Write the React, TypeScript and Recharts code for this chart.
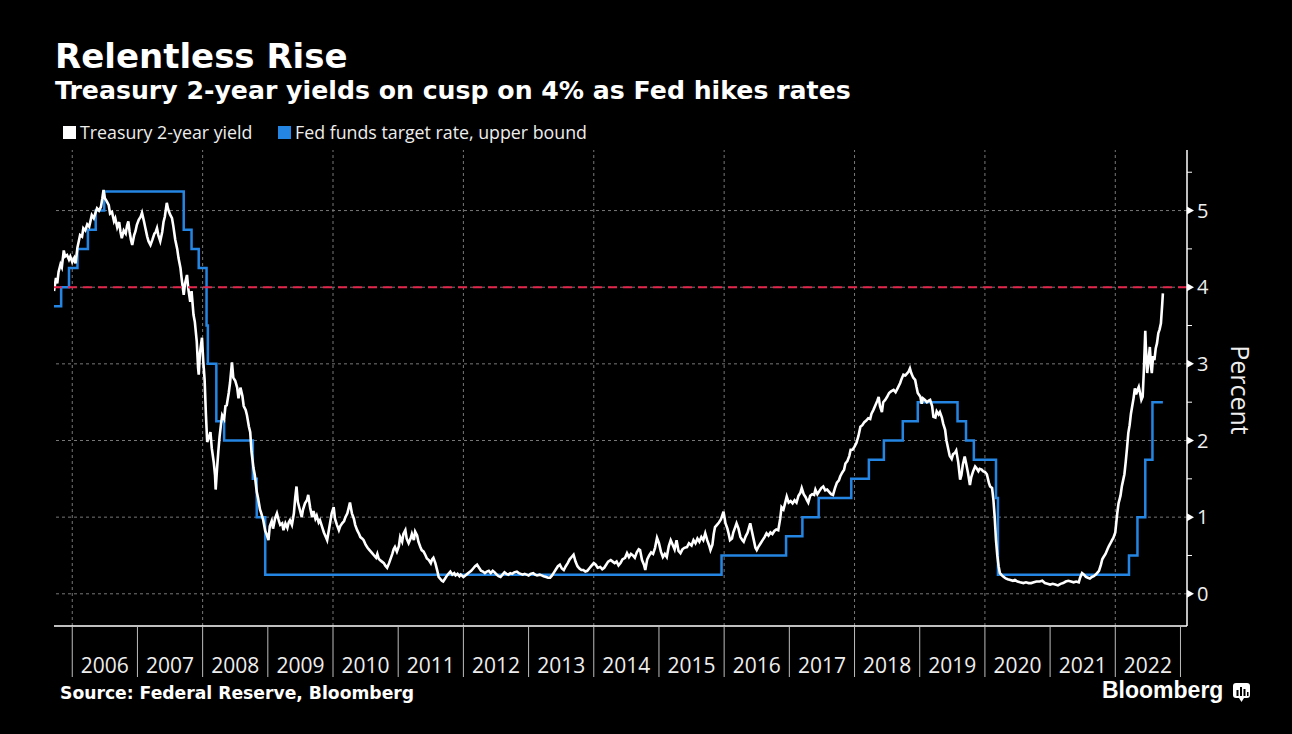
import React from 'react';
import { ComposedChart, Line, XAxis, YAxis, ReferenceLine } from 'recharts';

// Treasury 2-year yield, [decimal year, percent]
const treasury2y: [number, number][] = [
  [2005.72, 3.95], [2005.75, 4.12], [2005.77, 4.05], [2005.79, 4.2], [2005.82, 4.3], [2005.84, 4.26], [2005.87, 4.48], [2005.89, 4.4], [2005.92, 4.42], [2005.95, 4.36], [2005.97, 4.4],
  [2006.0, 4.33], [2006.03, 4.38], [2006.05, 4.31], [2006.08, 4.52], [2006.1, 4.6], [2006.12, 4.68], [2006.15, 4.66], [2006.17, 4.77], [2006.2, 4.74], [2006.23, 4.82], [2006.26, 4.79], [2006.3, 4.94], [2006.33, 4.9], [2006.36, 4.98], [2006.38, 5.03], [2006.41, 5.0], [2006.44, 5.05], [2006.46, 5.15], [2006.48, 5.27], [2006.5, 5.16], [2006.53, 5.12], [2006.56, 5.07], [2006.58, 4.96], [2006.61, 4.98], [2006.64, 4.86], [2006.66, 4.9], [2006.69, 4.78], [2006.72, 4.85], [2006.74, 4.72], [2006.76, 4.64], [2006.79, 4.74], [2006.82, 4.7], [2006.84, 4.8], [2006.86, 4.86], [2006.88, 4.72], [2006.9, 4.62], [2006.92, 4.55], [2006.95, 4.68], [2006.97, 4.73], [2006.99, 4.81],
  [2007.02, 4.88], [2007.05, 4.92], [2007.07, 4.97], [2007.1, 4.86], [2007.12, 4.78], [2007.15, 4.66], [2007.17, 4.6], [2007.2, 4.55], [2007.23, 4.62], [2007.26, 4.7], [2007.28, 4.72], [2007.3, 4.77], [2007.32, 4.68], [2007.35, 4.6], [2007.38, 4.72], [2007.4, 4.85], [2007.42, 4.92], [2007.45, 5.1], [2007.47, 5.02], [2007.5, 4.95], [2007.53, 4.9], [2007.55, 4.8], [2007.58, 4.62], [2007.61, 4.5], [2007.63, 4.38], [2007.66, 4.25], [2007.68, 4.1], [2007.71, 3.9], [2007.73, 4.05], [2007.76, 4.16], [2007.78, 3.98], [2007.81, 3.81], [2007.83, 3.95], [2007.86, 3.64], [2007.88, 3.55], [2007.91, 3.29], [2007.93, 2.95], [2007.94, 2.86], [2007.96, 3.15], [2007.99, 3.34],
  [2008.01, 3.03], [2008.03, 2.8], [2008.05, 2.35], [2008.07, 1.98], [2008.1, 2.05], [2008.12, 2.11], [2008.14, 1.9], [2008.17, 1.72], [2008.19, 1.55], [2008.2, 1.36], [2008.22, 1.62], [2008.24, 1.85], [2008.26, 2.05], [2008.28, 2.2], [2008.3, 2.33], [2008.33, 2.28], [2008.35, 2.45], [2008.37, 2.46], [2008.4, 2.62], [2008.42, 2.75], [2008.45, 3.02], [2008.47, 2.82], [2008.5, 2.78], [2008.53, 2.69], [2008.55, 2.55], [2008.58, 2.69], [2008.61, 2.58], [2008.63, 2.45], [2008.66, 2.4], [2008.68, 2.33], [2008.71, 2.18], [2008.73, 2.11], [2008.75, 1.85], [2008.78, 1.64], [2008.8, 1.55], [2008.83, 1.33], [2008.85, 1.25], [2008.88, 1.1], [2008.9, 1.05], [2008.93, 0.96], [2008.96, 0.82], [2008.98, 0.78],
  [2009.01, 0.7], [2009.03, 0.88], [2009.06, 0.95], [2009.08, 0.85], [2009.11, 0.98], [2009.14, 1.05], [2009.17, 0.95], [2009.19, 0.9], [2009.22, 0.92], [2009.24, 0.83], [2009.27, 0.92], [2009.3, 0.86], [2009.32, 0.93], [2009.34, 0.96], [2009.37, 0.9], [2009.4, 1.05], [2009.42, 1.25], [2009.44, 1.4], [2009.46, 1.2], [2009.49, 1.1], [2009.52, 1.0], [2009.54, 1.1], [2009.57, 1.18], [2009.6, 1.22], [2009.62, 1.29], [2009.65, 1.12], [2009.68, 1.0], [2009.7, 1.08], [2009.73, 0.98], [2009.75, 1.02], [2009.78, 0.93], [2009.8, 0.96], [2009.83, 0.88], [2009.86, 0.8], [2009.88, 0.76], [2009.91, 0.7], [2009.93, 0.8], [2009.96, 0.95], [2009.98, 1.05],
  [2010.01, 1.13], [2010.03, 0.98], [2010.06, 0.9], [2010.09, 0.83], [2010.11, 0.88], [2010.14, 0.92], [2010.17, 0.95], [2010.19, 1.0], [2010.22, 1.05], [2010.24, 1.12], [2010.26, 1.19], [2010.29, 1.05], [2010.32, 0.98], [2010.34, 0.9], [2010.37, 0.83], [2010.4, 0.78], [2010.42, 0.74], [2010.45, 0.72], [2010.47, 0.7], [2010.5, 0.64], [2010.53, 0.6], [2010.55, 0.58], [2010.58, 0.55], [2010.6, 0.53], [2010.63, 0.5], [2010.66, 0.47], [2010.68, 0.52], [2010.7, 0.46], [2010.72, 0.44], [2010.75, 0.42], [2010.78, 0.4], [2010.8, 0.37], [2010.83, 0.34], [2010.86, 0.4], [2010.88, 0.45], [2010.91, 0.52], [2010.93, 0.58], [2010.95, 0.61], [2010.98, 0.55],
  [2011.01, 0.62], [2011.03, 0.74], [2011.06, 0.68], [2011.08, 0.78], [2011.11, 0.83], [2011.13, 0.72], [2011.16, 0.66], [2011.19, 0.72], [2011.21, 0.78], [2011.24, 0.7], [2011.26, 0.81], [2011.29, 0.76], [2011.31, 0.68], [2011.34, 0.61], [2011.36, 0.57], [2011.39, 0.55], [2011.42, 0.5], [2011.44, 0.46], [2011.47, 0.44], [2011.5, 0.4], [2011.52, 0.45], [2011.54, 0.47], [2011.57, 0.4], [2011.6, 0.3], [2011.62, 0.22], [2011.65, 0.19], [2011.67, 0.17], [2011.69, 0.16], [2011.72, 0.2], [2011.75, 0.24], [2011.77, 0.26], [2011.8, 0.29], [2011.83, 0.25], [2011.86, 0.27], [2011.88, 0.24], [2011.91, 0.26], [2011.94, 0.23], [2011.96, 0.25],
  [2012.0, 0.22], [2012.03, 0.24], [2012.06, 0.26], [2012.09, 0.28], [2012.12, 0.3], [2012.15, 0.33], [2012.18, 0.36], [2012.21, 0.38], [2012.24, 0.34], [2012.27, 0.3], [2012.3, 0.29], [2012.33, 0.27], [2012.36, 0.29], [2012.39, 0.3], [2012.42, 0.27], [2012.45, 0.3], [2012.48, 0.28], [2012.51, 0.25], [2012.54, 0.23], [2012.57, 0.22], [2012.6, 0.25], [2012.63, 0.28], [2012.66, 0.26], [2012.69, 0.25], [2012.72, 0.27], [2012.75, 0.26], [2012.78, 0.28], [2012.82, 0.29], [2012.85, 0.27], [2012.88, 0.26], [2012.91, 0.25], [2012.94, 0.26], [2012.97, 0.25],
  [2013.0, 0.24], [2013.03, 0.26], [2013.07, 0.27], [2013.1, 0.25], [2013.13, 0.24], [2013.17, 0.25], [2013.2, 0.24], [2013.23, 0.23], [2013.27, 0.22], [2013.3, 0.21], [2013.33, 0.21], [2013.36, 0.24], [2013.39, 0.28], [2013.42, 0.32], [2013.45, 0.36], [2013.48, 0.38], [2013.51, 0.33], [2013.54, 0.31], [2013.57, 0.36], [2013.6, 0.4], [2013.63, 0.45], [2013.66, 0.48], [2013.69, 0.51], [2013.72, 0.42], [2013.75, 0.36], [2013.78, 0.33], [2013.81, 0.31], [2013.84, 0.31], [2013.87, 0.29], [2013.9, 0.3], [2013.93, 0.33], [2013.96, 0.36],
  [2014.0, 0.4], [2014.03, 0.38], [2014.06, 0.34], [2014.1, 0.35], [2014.13, 0.32], [2014.16, 0.34], [2014.19, 0.38], [2014.22, 0.42], [2014.26, 0.44], [2014.29, 0.42], [2014.32, 0.4], [2014.35, 0.42], [2014.38, 0.37], [2014.41, 0.4], [2014.44, 0.45], [2014.48, 0.47], [2014.51, 0.53], [2014.54, 0.48], [2014.57, 0.52], [2014.6, 0.5], [2014.63, 0.47], [2014.66, 0.54], [2014.69, 0.58], [2014.71, 0.57], [2014.74, 0.44], [2014.77, 0.38], [2014.79, 0.31], [2014.82, 0.45], [2014.85, 0.5], [2014.88, 0.54], [2014.91, 0.52], [2014.94, 0.6], [2014.97, 0.73],
  [2015.0, 0.66], [2015.03, 0.55], [2015.06, 0.48], [2015.09, 0.52], [2015.12, 0.48], [2015.15, 0.62], [2015.18, 0.7], [2015.21, 0.64], [2015.24, 0.58], [2015.27, 0.7], [2015.3, 0.56], [2015.33, 0.53], [2015.36, 0.58], [2015.39, 0.6], [2015.43, 0.61], [2015.46, 0.66], [2015.5, 0.63], [2015.53, 0.7], [2015.56, 0.66], [2015.59, 0.72], [2015.62, 0.68], [2015.65, 0.74], [2015.68, 0.7], [2015.71, 0.79], [2015.74, 0.7], [2015.77, 0.63], [2015.79, 0.57], [2015.82, 0.64], [2015.84, 0.78], [2015.86, 0.87], [2015.89, 0.9], [2015.92, 0.93], [2015.95, 0.97], [2015.97, 1.02], [2015.99, 1.07],
  [2016.02, 0.92], [2016.05, 0.85], [2016.07, 0.78], [2016.09, 0.7], [2016.12, 0.72], [2016.14, 0.8], [2016.17, 0.87], [2016.19, 0.92], [2016.22, 0.85], [2016.25, 0.74], [2016.28, 0.7], [2016.3, 0.68], [2016.33, 0.75], [2016.36, 0.8], [2016.38, 0.86], [2016.4, 0.92], [2016.43, 0.8], [2016.45, 0.72], [2016.48, 0.6], [2016.5, 0.57], [2016.53, 0.62], [2016.56, 0.66], [2016.59, 0.7], [2016.62, 0.74], [2016.65, 0.79], [2016.68, 0.76], [2016.71, 0.8], [2016.74, 0.78], [2016.77, 0.82], [2016.8, 0.84], [2016.83, 0.83], [2016.86, 0.98], [2016.88, 1.13], [2016.91, 1.1], [2016.94, 1.2], [2016.96, 1.27], [2016.99, 1.19],
  [2017.02, 1.21], [2017.05, 1.18], [2017.08, 1.22], [2017.11, 1.19], [2017.14, 1.28], [2017.17, 1.32], [2017.19, 1.38], [2017.22, 1.3], [2017.25, 1.26], [2017.27, 1.22], [2017.29, 1.19], [2017.32, 1.28], [2017.35, 1.3], [2017.38, 1.29], [2017.4, 1.36], [2017.43, 1.3], [2017.46, 1.34], [2017.49, 1.38], [2017.52, 1.4], [2017.55, 1.35], [2017.58, 1.36], [2017.61, 1.33], [2017.64, 1.3], [2017.67, 1.29], [2017.7, 1.38], [2017.73, 1.45], [2017.76, 1.48], [2017.78, 1.53], [2017.81, 1.58], [2017.84, 1.62], [2017.86, 1.7], [2017.89, 1.73], [2017.92, 1.8], [2017.94, 1.88], [2017.97, 1.88],
  [2018.0, 1.92], [2018.03, 1.97], [2018.06, 2.06], [2018.09, 2.18], [2018.12, 2.2], [2018.15, 2.24], [2018.18, 2.26], [2018.21, 2.29], [2018.24, 2.28], [2018.26, 2.35], [2018.29, 2.4], [2018.32, 2.46], [2018.35, 2.52], [2018.37, 2.57], [2018.39, 2.45], [2018.42, 2.37], [2018.44, 2.5], [2018.47, 2.53], [2018.5, 2.57], [2018.53, 2.62], [2018.56, 2.64], [2018.6, 2.66], [2018.63, 2.63], [2018.66, 2.68], [2018.7, 2.75], [2018.72, 2.8], [2018.75, 2.86], [2018.78, 2.85], [2018.81, 2.88], [2018.83, 2.9], [2018.85, 2.94], [2018.87, 2.88], [2018.9, 2.82], [2018.93, 2.79], [2018.95, 2.7], [2018.97, 2.62],
  [2019.01, 2.57], [2019.03, 2.48], [2019.05, 2.55], [2019.08, 2.53], [2019.11, 2.5], [2019.14, 2.52], [2019.16, 2.53], [2019.19, 2.45], [2019.21, 2.31], [2019.24, 2.3], [2019.26, 2.38], [2019.29, 2.34], [2019.31, 2.37], [2019.34, 2.3], [2019.36, 2.22], [2019.39, 2.14], [2019.41, 2.0], [2019.44, 1.88], [2019.46, 1.8], [2019.49, 1.76], [2019.51, 1.82], [2019.54, 1.84], [2019.56, 1.87], [2019.59, 1.72], [2019.62, 1.49], [2019.64, 1.55], [2019.66, 1.68], [2019.69, 1.79], [2019.71, 1.71], [2019.74, 1.58], [2019.77, 1.42], [2019.79, 1.52], [2019.82, 1.6], [2019.85, 1.66], [2019.87, 1.64], [2019.9, 1.6], [2019.92, 1.63], [2019.95, 1.62], [2019.97, 1.6],
  [2020.0, 1.59], [2020.03, 1.56], [2020.06, 1.45], [2020.08, 1.4], [2020.11, 1.38], [2020.13, 1.23], [2020.15, 1.0], [2020.17, 0.7], [2020.19, 0.5], [2020.21, 0.36], [2020.23, 0.27], [2020.26, 0.24], [2020.29, 0.22], [2020.32, 0.2], [2020.35, 0.19], [2020.39, 0.18], [2020.43, 0.17], [2020.46, 0.18], [2020.5, 0.16], [2020.54, 0.15], [2020.59, 0.14], [2020.63, 0.15], [2020.67, 0.14], [2020.71, 0.14], [2020.75, 0.15], [2020.79, 0.16], [2020.84, 0.16], [2020.88, 0.17], [2020.92, 0.14], [2020.96, 0.13],
  [2021.0, 0.12], [2021.04, 0.13], [2021.08, 0.12], [2021.12, 0.11], [2021.16, 0.13], [2021.2, 0.14], [2021.24, 0.16], [2021.28, 0.17], [2021.32, 0.16], [2021.36, 0.15], [2021.4, 0.16], [2021.44, 0.15], [2021.46, 0.21], [2021.49, 0.27], [2021.52, 0.25], [2021.55, 0.22], [2021.58, 0.21], [2021.61, 0.2], [2021.64, 0.22], [2021.67, 0.23], [2021.7, 0.25], [2021.72, 0.27], [2021.75, 0.3], [2021.78, 0.38], [2021.8, 0.45], [2021.82, 0.48], [2021.85, 0.52], [2021.88, 0.58], [2021.9, 0.62], [2021.92, 0.65], [2021.95, 0.7], [2021.97, 0.73],
  [2022.0, 0.8], [2022.03, 1.05], [2022.05, 1.18], [2022.08, 1.28], [2022.1, 1.4], [2022.12, 1.48], [2022.14, 1.56], [2022.16, 1.72], [2022.18, 1.9], [2022.2, 2.1], [2022.22, 2.2], [2022.24, 2.35], [2022.26, 2.45], [2022.28, 2.55], [2022.3, 2.68], [2022.32, 2.6], [2022.34, 2.66], [2022.36, 2.7], [2022.38, 2.62], [2022.4, 2.53], [2022.42, 2.57], [2022.44, 2.95], [2022.46, 3.43], [2022.47, 3.2], [2022.49, 2.88], [2022.51, 3.05], [2022.53, 3.22], [2022.55, 2.95], [2022.56, 2.88], [2022.58, 3.1], [2022.6, 3.05], [2022.62, 3.2], [2022.64, 3.27], [2022.66, 3.4], [2022.68, 3.45], [2022.7, 3.53], [2022.72, 3.78], [2022.73, 3.92],
];

// Fed funds target rate, upper bound: date of change and new level
const fedDates = [2005.72, 2005.83, 2005.95, 2006.08, 2006.24, 2006.36, 2006.49, 2007.71, 2007.83, 2007.94, 2008.06, 2008.08, 2008.21, 2008.33, 2008.77, 2008.83, 2008.96, 2015.96, 2016.95, 2017.2, 2017.45, 2017.95, 2018.22, 2018.45, 2018.74, 2018.97, 2019.58, 2019.71, 2019.83, 2020.17, 2020.2, 2022.21, 2022.34, 2022.46, 2022.57, 2022.73];
const fedRates = [3.75, 4.0, 4.25, 4.5, 4.75, 5.0, 5.25, 4.75, 4.5, 4.25, 3.5, 3.0, 2.25, 2.0, 1.5, 1.0, 0.25, 0.5, 0.75, 1.0, 1.25, 1.5, 1.75, 2.0, 2.25, 2.5, 2.25, 2.0, 1.75, 1.25, 0.25, 0.5, 1.0, 1.75, 2.5, 2.5];

const yearEdges = [2006, 2007, 2008, 2009, 2010, 2011, 2012, 2013, 2014, 2015, 2016, 2017, 2018, 2019, 2020, 2021, 2022, 2023];
const yearLabels = ['2006', '2007', '2008', '2009', '2010', '2011', '2012', '2013', '2014', '2015', '2016', '2017', '2018', '2019', '2020', '2021', '2022'];
const gridYears = [2006, 2008, 2010, 2012, 2014, 2016, 2018, 2020, 2022];
const gridLevels = [0, 1, 2, 3, 4, 5];
const levelTicks = [0, 0.5, 1, 1.5, 2, 2.5, 3, 3.5, 4, 4.5, 5, 5.5];
const threshold = 4;

const treasuryData = treasury2y.map(([t, v]) => ({ t, v }));
const fedData = fedDates.map((t, i) => ({ t, v: fedRates[i] }));
// tick at each year boundary (separator) plus one mid-year (label)
const xTicks = [...yearEdges, ...yearLabels.map((y) => Number(y) + 0.5)].sort((a, b) => a - b);

const FONT = '"Open Sans", "DejaVu Sans", sans-serif';
const BOLD = '"DejaVu Sans", sans-serif';

function YearTick(props: any) {
  const { x, y, payload } = props;
  const v = payload.value;
  if (Number.isInteger(v)) {
    return <line x1={x} x2={x} y1={y} y2={y + 51} stroke="#bdbdbd" strokeWidth={1} />;
  }
  return (
    <text x={x} y={y + 47} textAnchor="middle" fill="#eeeeee" fontSize={21} fontFamily={FONT}>
      {String(Math.floor(v))}
    </text>
  );
}

function LevelTick(props: any) {
  const { x, y, payload } = props;
  const v = payload.value;
  if (Number.isInteger(v)) {
    return (
      <g>
        <path d={`M${x},${y - 4}L${x + 7},${y}L${x},${y + 4}Z`} fill="#ffffff" />
        <text x={x + 10} y={y + 7} fill="#eeeeee" fontSize={20} fontFamily={FONT}>
          {v}
        </text>
      </g>
    );
  }
  return <line x1={x} x2={x + 5} y1={y} y2={y} stroke="#ffffff" strokeWidth={1} />;
}

export default function App() {
  return (
    <div style={{ position: 'absolute', left: 0, top: 0, width: 1292, height: 734, background: '#000', overflow: 'hidden' }}>
      <ComposedChart width={1292} height={734} margin={{ top: 150, right: 25, bottom: 48, left: 54 }}>
        <XAxis
          dataKey="t"
          type="number"
          domain={[2005.72, 2023.1]}
          allowDataOverflow
          ticks={xTicks}
          interval={0}
          tick={<YearTick />}
          tickLine={false}
          tickSize={0}
          tickMargin={0}
          height={60}
          axisLine={{ stroke: '#ffffff', strokeWidth: 1.5 }}
        />
        <YAxis
          orientation="right"
          type="number"
          domain={[-0.42, 5.79]}
          allowDataOverflow
          ticks={levelTicks}
          interval={0}
          tick={<LevelTick />}
          tickLine={false}
          tickSize={0}
          tickMargin={0}
          width={80}
          axisLine={{ stroke: '#ffffff', strokeWidth: 1.5 }}
        />
        {gridLevels.map((g) => (
          <ReferenceLine key={`h${g}`} y={g} stroke="#777" strokeDasharray="3 3" strokeWidth={1} />
        ))}
        {gridYears.map((g) => (
          <ReferenceLine key={`v${g}`} x={g} stroke="#777" strokeDasharray="3 3" strokeWidth={1} />
        ))}
        <Line
          data={fedData}
          dataKey="v"
          type="stepAfter"
          stroke="#2585e2"
          strokeWidth={2.5}
          dot={false}
          isAnimationActive={false}
        />
        <Line
          data={treasuryData}
          dataKey="v"
          type="linear"
          stroke="#ffffff"
          strokeWidth={2.6}
          dot={false}
          isAnimationActive={false}
        />
        <ReferenceLine y={threshold} stroke="#e3264c" strokeDasharray="9 6" strokeWidth={2} />
      </ComposedChart>

      <svg width={1292} height={734} style={{ position: 'absolute', left: 0, top: 0, pointerEvents: 'none' }}>
        <text x={55} y={68} fill="#fff" fontFamily={BOLD} fontWeight="bold" fontSize={34}>
          Relentless Rise
        </text>
        <text x={55} y={99} fill="#fff" fontFamily={BOLD} fontWeight="bold" fontSize={25.2}>
          Treasury 2-year yields on cusp on 4% as Fed hikes rates
        </text>
        <rect x={63} y={126} width={13} height={13} fill="#ffffff" />
        <text x={80} y={139} fill="#eeeeee" fontFamily={FONT} fontSize={17.8}>
          Treasury 2-year yield
        </text>
        <rect x={278} y={126} width={13} height={13} fill="#2585e2" />
        <text x={295} y={139} fill="#eeeeee" fontFamily={FONT} fontSize={17.8}>
          Fed funds target rate, upper bound
        </text>
        <text
          x={1231}
          y={390}
          fill="#eeeeee"
          fontFamily={FONT}
          fontSize={25}
          textAnchor="middle"
          transform="rotate(90 1231 390)"
        >
          Percent
        </text>
        <text x={60} y={699} fill="#fff" fontFamily={BOLD} fontWeight="bold" fontSize={17.2}>
          Source: Federal Reserve, Bloomberg
        </text>
        <text x={1102} y={698} fill="#fff" fontFamily='"Liberation Sans", Arial, sans-serif' fontWeight="bold" fontSize={23}>
          Bloomberg
        </text>
        <g>
          <rect x={1233} y={683} width={17} height={15} rx={3} fill="#fff" />
          <path d="M1239,698 L1241.5,702 L1244,698 Z" fill="#fff" />
          <rect x={1236.5} y={690} width={2} height={6} fill="#000" />
          <rect x={1240} y={687} width={2} height={9} fill="#000" />
          <rect x={1243.5} y={689} width={2} height={7} fill="#000" />
          <rect x={1247} y={692} width={1.5} height={4} fill="#000" />
        </g>
      </svg>
    </div>
  );
}
